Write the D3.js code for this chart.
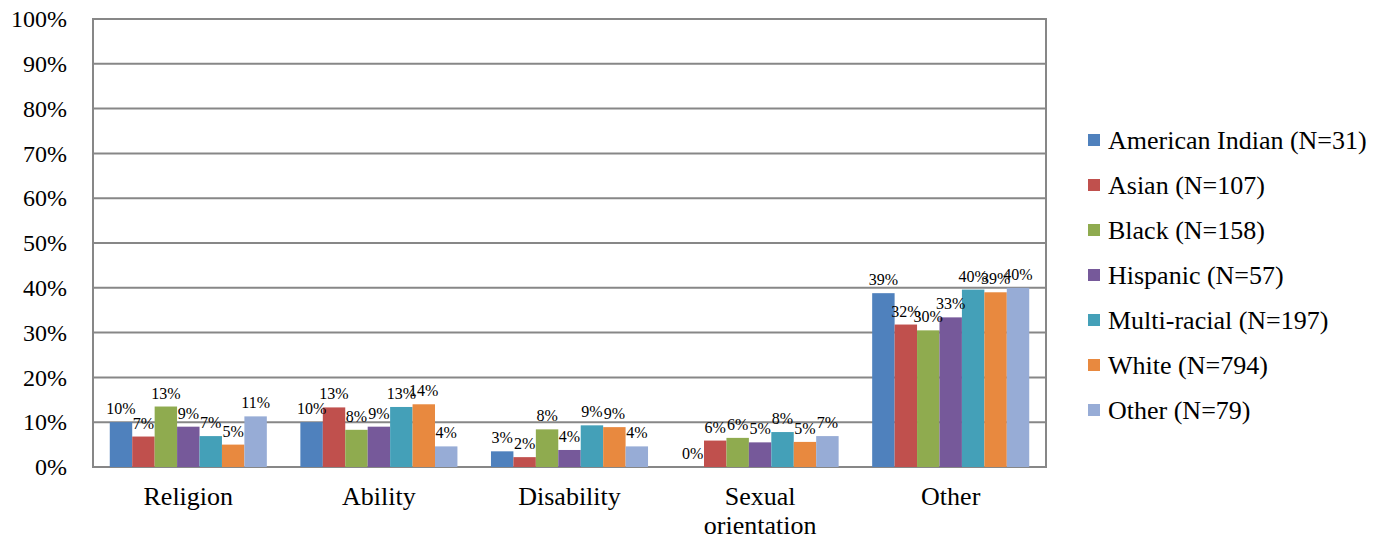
<!DOCTYPE html>
<html>
<head>
<meta charset="utf-8">
<script src="https://cdn.jsdelivr.net/npm/d3@7"></script>
<style>
body{margin:0;background:#fff;}
svg text{font-family:"Liberation Serif","Times New Roman",serif !important;fill:#000;}
</style>
</head>
<body>
<svg id="chart" width="1387" height="539" font-family="Liberation Serif, Times New Roman, serif"></svg>
<script>
const categories = ["Religion", "Ability", "Disability", "Sexual orientation", "Other"];
const seriesNames = ["American Indian (N=31)", "Asian (N=107)", "Black (N=158)", "Hispanic (N=57)", "Multi-racial (N=197)", "White (N=794)", "Other (N=79)"];
const americanIndian = [10.0, 10.0, 3.5, 0.0, 38.8];
const asian = [6.8, 13.3, 2.2, 5.9, 31.8];
const black = [13.5, 8.3, 8.4, 6.5, 30.5];
const hispanic = [9.0, 9.0, 3.8, 5.5, 33.4];
const multiRacial = [6.9, 13.4, 9.3, 7.8, 39.6];
const white = [5.0, 14.0, 8.9, 5.6, 39.0];
const other = [11.3, 4.6, 4.6, 6.9, 40.0];
const seriesValues = [americanIndian, asian, black, hispanic, multiRacial, white, other];
const dataLabels = [
  ["10%", "10%", "3%", "0%", "39%"],
  ["7%", "13%", "2%", "6%", "32%"],
  ["13%", "8%", "8%", "6%", "30%"],
  ["9%", "9%", "4%", "5%", "33%"],
  ["7%", "13%", "9%", "8%", "40%"],
  ["5%", "14%", "9%", "5%", "39%"],
  ["11%", "4%", "4%", "7%", "40%"]
];
const yTicks = [0, 10, 20, 30, 40, 50, 60, 70, 80, 90, 100];
const yTickLabels = ["0%", "10%", "20%", "30%", "40%", "50%", "60%", "70%", "80%", "90%", "100%"];
const colors = ["#4F81BD", "#C0504D", "#8FAB4F", "#76599A", "#44A0B8", "#E8893F", "#97ACD6"];

const FONT = "Liberation Serif, Times New Roman, serif";
const svg = d3.select("#chart");
const m = {left: 93, right: 1046, top: 19, bottom: 467};
const gridColor = "#878787";

const x0 = d3.scaleBand().domain(categories).range([m.left, m.right]).padding(0);
const bw = x0.bandwidth();
const x1 = d3.scaleBand().domain(d3.range(seriesNames.length)).range([bw * 0.088, bw * 0.912]).padding(0);
const y = d3.scaleLinear().domain([0, 100]).range([m.bottom, m.top]);

// gridlines
svg.append("g").selectAll("line").data(yTicks).join("line")
  .attr("x1", m.left).attr("x2", m.right)
  .attr("y1", d => y(d)).attr("y2", d => y(d))
  .attr("stroke", gridColor).attr("stroke-width", 2);

// plot border
svg.append("rect").attr("x", m.left).attr("y", m.top)
  .attr("width", m.right - m.left).attr("height", m.bottom - m.top)
  .attr("fill", "none").attr("stroke", gridColor).attr("stroke-width", 2);

// y axis labels
const yAxis = d3.axisLeft(y).tickValues(yTicks).tickFormat((d, i) => yTickLabels[i]).tickSize(0).tickPadding(26);
const ya = svg.append("g").attr("transform", `translate(${m.left},0)`).call(yAxis);
ya.attr("font-family", FONT).attr("font-size", 24);
ya.select(".domain").remove();
ya.selectAll("text").attr("font-family", FONT).attr("font-size", 24).attr("fill", "#000");

// bars
const groups = svg.append("g").selectAll("g").data(categories).join("g")
  .attr("transform", d => `translate(${x0(d)},0)`);
groups.each(function(cat, ci) {
  const g = d3.select(this);
  seriesValues.forEach((vals, si) => {
    const v = vals[ci];
    g.append("rect")
      .attr("x", x1(si)).attr("width", x1.bandwidth())
      .attr("y", y(v)).attr("height", y(0) - y(v))
      .attr("fill", colors[si]);
  });
  seriesValues.forEach((vals, si) => {
    const v = vals[ci];
    g.append("text")
      .attr("x", x1(si) + x1.bandwidth() / 2)
      .attr("y", y(v) - 8)
      .attr("text-anchor", "middle")
      .attr("font-family", FONT)
      .attr("font-size", 16)
      .attr("fill", "#222")
      .text(dataLabels[si][ci]);
  });
});

// x axis category labels
const xl = svg.append("g");
categories.forEach(c => {
  const words = c === "Sexual orientation" ? ["Sexual", "orientation"] : [c];
  const t = xl.append("text").attr("text-anchor", "middle").attr("font-size", 26).attr("font-family", FONT)
    .attr("x", x0(c) + bw / 2).attr("y", 505);
  words.forEach((w, i) => t.append("tspan").attr("x", x0(c) + bw / 2).attr("dy", i === 0 ? 0 : 29).text(w));
});

// legend
const lg = svg.append("g").attr("transform", "translate(1088,140)");
seriesNames.forEach((n, i) => {
  const r = lg.append("g").attr("transform", `translate(0,${i * 45})`);
  r.append("rect").attr("x", 0).attr("y", -6).attr("width", 12).attr("height", 12).attr("fill", colors[i]);
  r.append("text").attr("x", 20).attr("y", 0).attr("dy", "0.35em").attr("font-size", 26).attr("font-family", FONT).text(n);
});
</script>
</body>
</html>
